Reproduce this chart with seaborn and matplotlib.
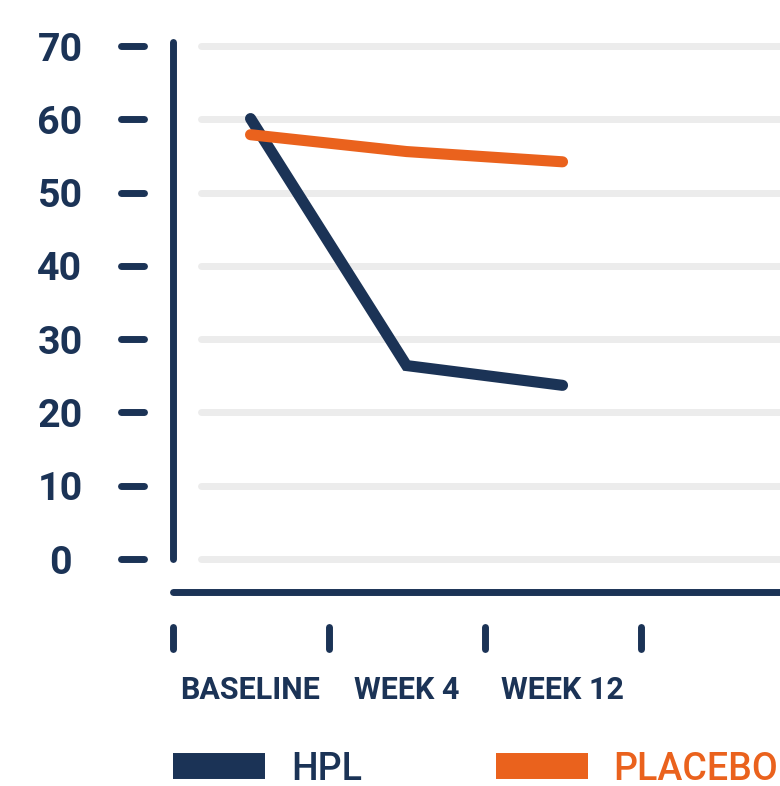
import matplotlib
matplotlib.use("Agg")
import matplotlib.pyplot as plt
import matplotlib.transforms as mtransforms
from matplotlib.lines import Line2D
import numpy as np
import pandas as pd
import seaborn as sns

# values
visits = ["BASELINE", "WEEK 4", "WEEK 12"]
hpl = [60.1, 26.4, 23.7]
placebo = [57.9, 55.6, 54.2]
groups = ["HPL", "PLACEBO"]
y_ticks = [0, 10, 20, 30, 40, 50, 60, 70]

NAVY = "#1b3356"
ORANGE = "#ea621d"
GRID = "#ececec"

df = pd.DataFrame({
    "visit": visits * 2,
    "score": hpl + placebo,
    "group": [groups[0]] * len(visits) + [groups[1]] * len(visits),
})

sns.set_theme(style="white")
plt.rcParams["font.family"] = ["Roboto", "DejaVu Sans"]

fig = plt.figure(figsize=(7.8, 7.86), dpi=100)
ax = fig.add_axes([0.2212, 0.2468, 0.7788, 0.7036])

sns.lineplot(data=df, x="visit", y="score", hue="group", palette=[NAVY, ORANGE],
             linewidth=8, sort=False, errorbar=None, legend=False, ax=ax)
for line in ax.lines:
    line.set_solid_capstyle("round")
    line.set_solid_joinstyle("miter")
    line.set_zorder(3)

ax.set_xlim(-0.5, 3.394)
ax.set_ylim(-4.5, 70.96)
ax.set_xlabel("")
ax.set_ylabel("")

# axis lines
for side in ["top", "right"]:
    ax.spines[side].set_visible(False)
for side in ["left", "bottom"]:
    ax.spines[side].set_color(NAVY)
    ax.spines[side].set_linewidth(5)
    ax.spines[side].set_capstyle("round")
ax.spines["left"].set_bounds(0, 70.6)
ax.spines["bottom"].set_bounds(-0.5, 3.394)

# gridlines and detached tick marks
ytrans = mtransforms.blended_transform_factory(ax.transAxes, ax.transData)
xtrans = mtransforms.blended_transform_factory(ax.transData, ax.transAxes)
ax.hlines(y_ticks, 0.0461, 1.02, transform=ytrans, color=GRID, lw=5,
          capstyle="round", zorder=0, clip_on=False)
ax.hlines(y_ticks, -0.0856, -0.0477, transform=ytrans, color=NAVY, lw=5,
          capstyle="round", clip_on=False)
bounds = np.arange(len(visits) + 1) - 0.5
ax.vlines(bounds, -0.0624, -0.1022, transform=xtrans, color=NAVY, lw=5,
          capstyle="round", clip_on=False)

# tick labels
ax.set_yticks(y_ticks)
ax.tick_params(axis="y", length=0, pad=81, labelsize=28.4, labelcolor=NAVY)
for lab in ax.get_yticklabels():
    lab.set_ha("center")
    lab.set_fontweight("bold")
ax.set_xticks(range(len(visits)), visits)
ax.tick_params(axis="x", length=0, pad=60, labelsize=22, labelcolor=NAVY)
for lab in ax.get_xticklabels():
    lab.set_fontweight("bold")

# legend
handles = [Line2D([], [], color=c, lw=18.7, solid_capstyle="butt") for c in [NAVY, ORANGE]]
ax.legend(handles, groups, loc="center left", bbox_to_anchor=(173 / 780, 17 / 786),
          bbox_transform=fig.transFigure, ncol=2, frameon=False,
          prop={"size": 27, "weight": "medium"},
          handlelength=2.45, handletextpad=0.7, columnspacing=3.56,
          borderpad=0, borderaxespad=0, labelcolor="linecolor")

fig.savefig("out.png", dpi=100)
plt.close(fig)
